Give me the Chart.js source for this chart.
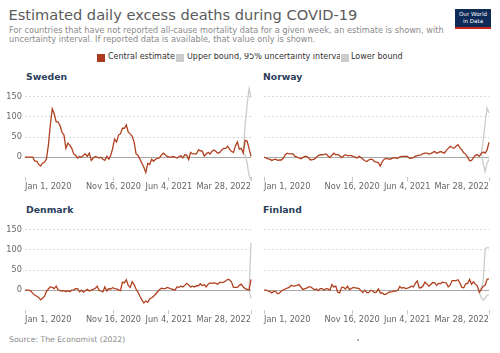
<!DOCTYPE html>
<html><head><meta charset="utf-8">
<script src="https://cdn.jsdelivr.net/npm/chart.js@4.4.0/dist/chart.umd.min.js"></script>
<style>
body{margin:0;width:500px;height:353px;background:#fff;position:relative;overflow:hidden;font-family:'DejaVu Sans',sans-serif;}
.abs{position:absolute;white-space:nowrap;line-height:1;}
#title{left:8.5px;top:8.3px;font-size:14.6px;color:#5b5b5b;}
.sub{left:9px;font-size:8.2px;color:#8a8a8a;}
.leg{font-size:8px;color:#333;top:53.4px;}
.box{position:absolute;width:8px;height:8px;top:53.5px;}
.ptitle{font-size:9.3px;font-weight:bold;color:#2b3f5c;}
#logo{position:absolute;left:455px;top:9px;width:36px;background:#0e2a57;border-bottom:2px solid #ce261e;color:#fff;font-size:5.6px;text-align:center;line-height:6.6px;padding-top:2px;box-sizing:content-box;height:16px;}
canvas{position:absolute;}
</style></head>
<body>
<div id="title" class="abs">Estimated daily excess deaths during COVID-19</div>
<div class="abs sub" style="top:25.8px">For countries that have not reported all-cause mortality data for a given week, an estimate is shown, with</div>
<div class="abs sub" style="top:34.8px">uncertainty interval. If reported data is available, that value only is shown.</div>
<div id="logo">Our World<br>in Data</div>

<div class="box" style="left:97px;background:#a93a1d"></div>
<div class="abs leg" style="left:108px">Central estimate</div>
<div class="box" style="left:176px;background:#cccccc"></div>
<div class="abs leg" style="left:187px;width:153px;overflow:hidden">Upper bound, 95% uncertainty interval</div>
<div class="box" style="left:341px;background:#cccccc"></div>
<div class="abs leg" style="left:351px">Lower bound</div>

<div class="abs ptitle" style="left:26px;top:72.2px">Sweden</div>
<div class="abs ptitle" style="left:263px;top:72.2px">Norway</div>
<div class="abs ptitle" style="left:26px;top:204.9px">Denmark</div>
<div class="abs ptitle" style="left:263px;top:204.9px">Finland</div>

<canvas id="sweden" width="252" height="120" style="left:0px;top:80px;width:252px;height:120px"></canvas>
<canvas id="norway" width="227" height="120" style="left:263px;top:80px;width:227px;height:120px"></canvas>
<canvas id="denmark" width="252" height="120" style="left:0px;top:212.7px;width:252px;height:120px"></canvas>
<canvas id="finland" width="227" height="120" style="left:263px;top:212.7px;width:227px;height:120px"></canvas>

<div class="abs" style="left:9px;top:335.8px;font-size:7.7px;color:#8a8a8a">Source: The Economist (2022)</div>
<div style="position:absolute;left:357px;top:339px;width:1.6px;height:1.6px;border-radius:1px;background:#999"></div>

<script>
// ---- Data ----
const SPAN_DAYS = 817; // Jan 1, 2020 -> Mar 28, 2022
const tickDays = [0, 320, 520, 817];
const tickLabels = ['Jan 1, 2020', 'Nov 16, 2020', 'Jun 4, 2021', 'Mar 28, 2022'];
const yTicks = [0, 50, 100, 150];

const swedenCentral = [0,0,0,0,0,-10,-10,-18,-22,-15,
  -12,-5,30,80,120,108,88,88,78,62,
  55,22,35,30,22,8,4,-2,2,0,
  5,8,2,10,-8,-2,2,0,-2,0,
  -5,-8,2,-5,5,22,45,38,55,58,
  72,72,80,62,58,52,38,8,5,-5,
  -15,-25,-38,-15,-18,-5,-10,-5,-3,-2,
  5,10,6,2,0,0,2,0,-2,1,
  4,-2,6,5,-6,12,8,8,8,18,
  16,15,3,8,12,8,15,18,14,10,
  12,18,22,22,27,20,14,12,28,38,
  20,22,10,42,40,22,2];
const swedenBoundStart = 112;
const swedenUpper = [10,80,130,170,148];
const swedenLower = [10,5,-15,-45,-57];

const norwayCentral = [0,-2,-4,-5,-8,-6,-5,-8,-7,-7,
  -2,6,10,8,8,8,2,0,-2,-4,
  -1,2,2,-2,-7,-6,-5,0,4,6,
  6,7,8,3,-1,5,10,6,7,4,
  -1,3,6,4,4,4,2,0,-2,2,
  -1,-5,-9,-11,-7,-5,-6,-11,-12,-14,
  -22,-11,-5,-3,-4,-5,-3,-1,-2,-3,
  1,2,2,2,2,-3,-2,-1,2,4,
  5,6,9,10,10,8,9,12,14,10,
  12,14,12,10,17,22,27,24,22,27,
  31,24,18,11,7,0,-9,-8,-1,5,
  6,2,9,13,10,18,37];
const norwayBoundStart = 112;
const norwayUpper = [9,40,85,122,110];
const norwayLower = [9,-15,-36,-15,-5];

const denmarkCentral = [0,0,0,-2,-8,-12,-15,-18,-24,-20,
  -15,-3,3,8,7,4,10,1,-1,-2,
  -1,-4,-1,-4,0,1,4,4,-4,0,
  -5,-1,2,-2,0,2,4,10,0,-2,
  -4,8,-2,4,3,6,4,3,1,-1,
  20,18,26,12,7,21,14,3,-5,-15,
  -24,-32,-27,-30,-22,-19,-15,-10,-4,1,
  5,4,4,7,5,3,2,0,8,7,
  10,8,12,17,13,8,10,8,11,11,
  16,11,14,8,15,18,17,18,17,15,
  20,19,20,23,27,26,20,7,7,7,
  12,15,8,4,2,0,27];
const denmarkBoundStart = 115;
const denmarkUpper = [0,117];
const denmarkLower = [0,-20];

const finlandCentral = [0,0,-2,-3,-7,-3,-3,-9,-7,-2,
  1,3,5,7,12,10,11,12,14,8,
  2,4,5,8,8,5,1,3,-1,4,
  4,0,4,3,0,14,8,10,-5,-7,
  7,7,3,10,2,4,7,6,5,4,
  -1,-6,0,-6,-6,0,-2,-6,-5,3,
  -7,-7,-11,-10,-6,-4,-4,-2,-2,0,
  9,5,7,4,5,7,10,8,17,23,
  6,6,11,20,15,10,14,19,18,12,
  17,16,20,19,18,8,13,24,24,24,
  26,18,7,6,16,17,27,15,21,15,
  10,-5,2,10,12,27,28];
const finlandBoundStart = 111;
const finlandUpper = [-5,6,22,102,106,106];
const finlandLower = [-5,-18,-25,-20,-12,-11];

// ---- Styles ----
const CENTRAL_COLOR = '#b0401f';
const BOUND_COLOR = '#cccccc';

Chart.defaults.font.family = "'DejaVu Sans', sans-serif";
Chart.defaults.color = '#666';

const zeroLine = {
  id: 'zeroLine',
  beforeDatasetsDraw(chart) {
    const ctx = chart.ctx, y = Math.round(chart.scales.y.getPixelForValue(0)) + 0.5;
    const a = chart.chartArea;
    ctx.save();
    ctx.strokeStyle = '#a8a8a8';
    ctx.lineWidth = 1;
    ctx.beginPath(); ctx.moveTo(a.left, y); ctx.lineTo(a.right, y); ctx.stroke();
    ctx.restore();
  }
};

function toPoints(vals, start, n) {
  return vals.map((v, k) => ({ x: (start + k) * SPAN_DAYS / (n - 1), y: v }));
}

function makePanel(id, central, upper, lower, boundStart, showY) {
  const n = central.length;
  new Chart(document.getElementById(id), {
    type: 'line',
    data: {
      datasets: [
        { label: 'Central estimate', data: toPoints(central, 0, n), borderColor: CENTRAL_COLOR, borderWidth: 1.3, pointRadius: 0, tension: 0, order: 0, clip: false },
        { label: 'Upper bound, 95% uncertainty interval', data: toPoints(upper, boundStart, n), borderColor: BOUND_COLOR, borderWidth: 1.3, pointRadius: 0, tension: 0, order: 1, clip: false },
        { label: 'Lower bound', data: toPoints(lower, boundStart, n), borderColor: BOUND_COLOR, borderWidth: 1.3, pointRadius: 0, tension: 0, order: 1, clip: false }
      ]
    },
    options: {
      responsive: false,
      animation: false,
      devicePixelRatio: 1,
      layout: { padding: { top: 8, right: 0.5, left: 0, bottom: 0 } },
      plugins: { legend: { display: false }, tooltip: { enabled: false }, title: { display: false } },
      scales: {
        x: {
          type: 'linear', min: 0, max: SPAN_DAYS,
          afterBuildTicks: s => { s.ticks = tickDays.map(v => ({ value: v })); },
          afterFit: s => { s.height = 22.7; },
          ticks: {
            autoSkip: false, maxRotation: 0, align: 'inner', padding: 1,
            font: { size: 8.2 }, color: '#666',
            callback: v => tickLabels[tickDays.indexOf(v)]
          },
          grid: { display: true, drawOnChartArea: false, drawTicks: true, tickLength: 4, tickColor: '#c8c8c8' },
          border: { display: false }
        },
        y: {
          min: -50, max: 172,
          afterBuildTicks: s => { s.ticks = yTicks.map(v => ({ value: v })); },
          afterFit: s => { s.width = showY ? 25 : 0; },
          ticks: { display: showY, padding: 3, font: { size: 8.2 }, color: '#666' },
          grid: {
            drawTicks: false,
            color: c => (c.tick && c.tick.value === 0) ? 'rgba(0,0,0,0)' : '#d8d8d8'
          },
          border: { display: false, dash: [2, 2] }
        }
      }
    },
    plugins: [zeroLine]
  });
}

makePanel('sweden', swedenCentral, swedenUpper, swedenLower, swedenBoundStart, true);
makePanel('norway', norwayCentral, norwayUpper, norwayLower, norwayBoundStart, false);
makePanel('denmark', denmarkCentral, denmarkUpper, denmarkLower, denmarkBoundStart, true);
makePanel('finland', finlandCentral, finlandUpper, finlandLower, finlandBoundStart, false);
</script>
</body></html>
